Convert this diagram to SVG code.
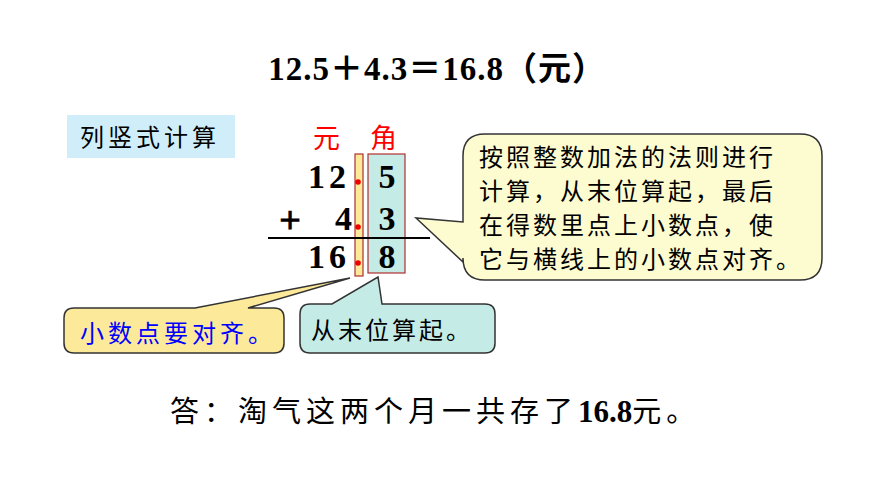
<svg xmlns="http://www.w3.org/2000/svg" width="870" height="489" viewBox="0 0 870 489">
<style>
.n{font-family:"Liberation Serif",serif;font-weight:bold;font-size:34px;fill:#000}
.k{font-family:"Noto Sans CJK SC",sans-serif;font-size:24px;fill:#000}
.call{stroke:#333;stroke-width:1.5}
</style>
<rect width="870" height="489" fill="#fff"/>
<g id="title"><text x="437" y="80" text-anchor="middle" font-family="Liberation Serif,Noto Sans CJK SC,serif" font-weight="bold" font-size="33" letter-spacing="1">12.5＋4.3＝16.8（元）</text></g>
<g id="label"><rect x="67" y="115" width="168" height="43" fill="#cfeefa"/><text x="80" y="146" class="k" letter-spacing="4">列竖式计算</text></g>
<g id="calc">
<rect x="355" y="154" width="8" height="122" fill="#fce99a" stroke="#b03030" stroke-width="1.2"/>
<rect x="368" y="154" width="37" height="119" fill="#c5ebe6" stroke="#b03030" stroke-width="1.2"/>
<text x="313" y="148" class="k" style="fill:#f00;font-size:27px">元</text>
<text x="370" y="148" class="k" style="fill:#f00;font-size:27px">角</text>
<text x="350" y="188" class="n" text-anchor="end" letter-spacing="4">12</text>
<text x="387" y="188" class="n" text-anchor="middle">5</text>
<text x="290" y="230" class="n" text-anchor="middle">＋</text>
<text x="352" y="230" class="n" text-anchor="end">4</text>
<text x="387" y="230" class="n" text-anchor="middle">3</text>
<line x1="268" y1="238" x2="430" y2="238" stroke="#000" stroke-width="2"/>
<text x="350" y="268" class="n" text-anchor="end" letter-spacing="4">16</text>
<text x="387" y="268" class="n" text-anchor="middle">8</text>
<circle cx="358" cy="182" r="2.8" fill="#e00"/>
<circle cx="358" cy="227" r="2.8" fill="#e00"/>
<circle cx="358" cy="263" r="2.8" fill="#e00"/>
</g>
<g id="callout-right">
<path class="call" fill="#fdfbd0" d="M485,134 H800 Q822,134 822,156 V258 Q822,280 800,280 H485 Q463,280 463,258 V262 L416,218 L463,222 V156 Q463,134 485,134 Z"/>
<g class="k"><text x="479" y="166" letter-spacing="3">按照整数加法的法则进行</text><text x="479" y="200" letter-spacing="3">计算，从末位算起，最后</text><text x="479" y="234" letter-spacing="3">在得数里点上小数点，使</text><text x="479" y="268" letter-spacing="3">它与横线上的小数点对齐。</text></g>
</g>
<g id="callout-left">
<path class="call" fill="#fce99a" d="M74,308 H195 L350,278 L248,308 H274 Q284,308 284,318 V343 Q284,353 274,353 H74 Q64,353 64,343 V318 Q64,308 74,308 Z"/>
<text x="80" y="342" class="k" style="fill:#00f" letter-spacing="4">小数点要对齐。</text>
</g>
<g id="callout-mid">
<path class="call" fill="#c5ebe6" d="M310,304 H332 L378,277 L382,304 H485 Q495,304 495,314 V343 Q495,353 485,353 H310 Q300,353 300,343 V314 Q300,304 310,304 Z"/>
<text x="311" y="339" class="k" letter-spacing="3">从末位算起。</text>
</g>
<g id="answer"><text x="170" y="422" font-family="Noto Sans CJK SC,sans-serif" font-size="29" letter-spacing="5"><tspan>答：淘气这两个月一共存了</tspan><tspan font-family="Liberation Serif,serif" font-weight="bold" font-size="31" letter-spacing="0">16.8</tspan><tspan>元。</tspan></text></g>
</svg>
